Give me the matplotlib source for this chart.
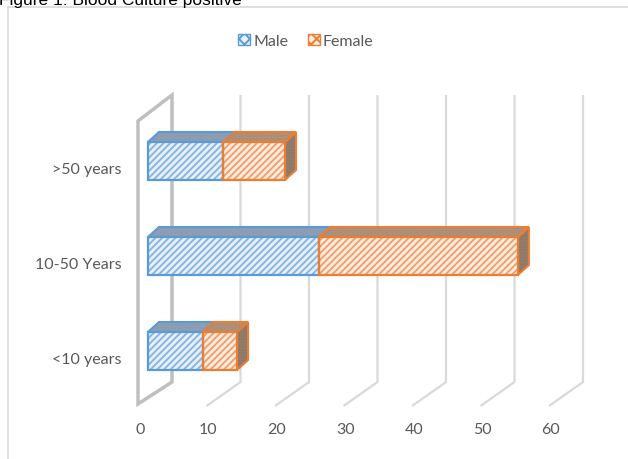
import matplotlib
matplotlib.use("Agg")
import matplotlib.pyplot as plt
from matplotlib.patches import Polygon, Patch
from matplotlib.lines import Line2D

groups = ["<10 years", "10-50 Years", ">50 years"]
male = [8, 25, 11]
female = [5, 29, 9]
ticks = [0, 10, 20, 30, 40, 50, 60]

BLUE, BLUE_FACE, BLUE_HATCH, BLUE_TOP = "#5b9bd5", "#e8f0fa", "#89b6e2", "#97a5b6"
ORANGE, ORANGE_FACE, ORANGE_HATCH, ORANGE_TOP = "#ed7d31", "#fdede2", "#f2a06a", "#b7987f"
SIDE = "#9e8574"
GRID, WALL, TXT = "#d9d9d9", "#bfbfbf", "#595959"

plt.rcParams["font.family"] = ["Lato", "DejaVu Sans"]
plt.rcParams["hatch.linewidth"] = 1.4

# pixel scale of the pseudo-3d layout
PX = 6.85   # px per value unit
PY = 95.0   # px per category step

fig = plt.figure(figsize=(6.28, 4.60), dpi=100)
ax = fig.add_axes([0, 0, 1, 1])
ax.set_xlim(-148 / PX, (628 - 148) / PX)
ax.set_ylim((352 - 460) / PY, 352 / PY)
ax.axis("off")

# depth offsets
bdx, bdy = 11 / PX, 10 / PY          # bar depth
gback, gfront = 24 / PX, -10 / PX    # back/front plane of grid
y_top, y_back, y_front = 256 / PY, -31 / PY, -55 / PY

# grid lines + left wall
for t in ticks:
    if t == 0:
        wall = Polygon([(t + gfront, 230 / PY), (t + gback, y_top), (t + gback, y_back),
                        (t + gfront, y_front + 2 / PY)], closed=True, fill=False,
                       edgecolor=WALL, lw=2.5, zorder=1)
        ax.add_patch(wall)
    else:
        ax.plot([t + gfront, t + gback, t + gback], [y_front, y_back, y_top],
                color=GRID, lw=1.6, zorder=1, solid_capstyle="butt")
    ax.text(t + gfront + 2 / PX, (352 - 430) / PY, str(t), ha="center", va="center",
            fontsize=11.5, color=TXT)

h = 38 / PY
ys = list(range(len(groups)))
totals = [m + f for m, f in zip(male, female)]

# front faces: hatched fill, then outline
ax.barh(ys, male, height=h, left=0, color=BLUE_FACE, edgecolor=BLUE_HATCH,
        hatch="/////", lw=0, zorder=4)
ax.barh(ys, female, height=h, left=male, color=ORANGE_FACE, edgecolor=ORANGE_HATCH,
        hatch="/////", lw=0, zorder=4)
ax.barh(ys, male, height=h, left=0, fill=False, edgecolor=BLUE, lw=1.6, zorder=5)
ax.barh(ys, female, height=h, left=male, fill=False, edgecolor=ORANGE, lw=1.6, zorder=5)


def box_face(pts, face, dots, edge):
    ax.add_patch(Polygon(pts, closed=True, facecolor=face, edgecolor=dots,
                         hatch="......", lw=0, zorder=3))
    ax.add_patch(Polygon(pts, closed=True, fill=False, edgecolor=edge,
                         lw=1.5, zorder=3.5))


for y, m, tot in zip(ys, male, totals):
    top = y + h / 2
    bot = y - h / 2
    box_face([(0, top), (m, top), (m + bdx, top + bdy), (bdx, top + bdy)],
             BLUE_TOP, "#8096b0", BLUE)
    box_face([(m, top), (tot, top), (tot + bdx, top + bdy), (m + bdx, top + bdy)],
             ORANGE_TOP, "#a4856f", ORANGE)
    box_face([(tot, bot), (tot, top), (tot + bdx, top + bdy), (tot + bdx, bot + bdy)],
             SIDE, "#84705f", ORANGE)

for y, g in zip(ys, groups):
    ax.text(-26 / PX, y - 8 / PY, g, ha="right", va="center", fontsize=11.5, color=TXT)

handles = [Patch(facecolor=BLUE_FACE, edgecolor=BLUE, hatch="xxx", label="Male"),
           Patch(facecolor=ORANGE_FACE, edgecolor=ORANGE, hatch="xxx", label="Female")]
leg = fig.legend(handles=handles, loc="center", bbox_to_anchor=(0.487, 1 - 42 / 460),
                 ncol=2, frameon=False, fontsize=11.5, handlelength=0.75, handleheight=0.75,
                 handletextpad=0.2, columnspacing=1.2)
for t in leg.get_texts():
    t.set_color(TXT)

# chart border and cropped caption
fig.add_artist(Line2D([7.5 / 628, 7.5 / 628], [0, 1 - 8 / 460], color=GRID, lw=1.2))
fig.add_artist(Line2D([7.5 / 628, 1], [1 - 8 / 460, 1 - 8 / 460], color=GRID, lw=1.2))
fig.text(-0.002, 1 - 5 / 460, "Figure 1: Blood Culture positive", ha="left", va="baseline",
         fontsize=12.5, family=["Liberation Sans", "DejaVu Sans"], color="#000000")

fig.savefig("out.png", dpi=100)
